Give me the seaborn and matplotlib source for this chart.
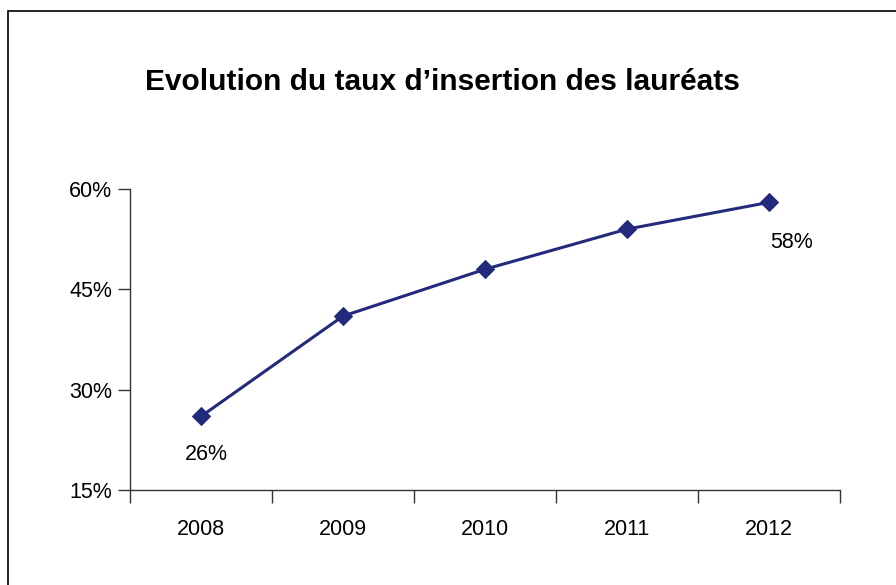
import matplotlib
matplotlib.use('Agg')
import matplotlib.pyplot as plt
import matplotlib.patches as patches
import pandas as pd
import seaborn as sns

# Data
years = ['2008', '2009', '2010', '2011', '2012']
taux = [26, 41, 48, 54, 58]
y_ticks = [15, 30, 45, 60]
labelled = {0: '26%', 4: '58%'}

df = pd.DataFrame({'annee': years, 'taux': taux})

sns.set_style('white')
plt.rcParams['font.family'] = ['Liberation Sans', 'DejaVu Sans']
plt.rcParams['text.color'] = 'black'
plt.rcParams['xtick.color'] = 'black'
plt.rcParams['ytick.color'] = 'black'

fig = plt.figure(figsize=(8.96, 5.85), dpi=100)
ax = fig.add_axes([130 / 896, 1 - 490 / 585, 710 / 896, 301 / 585])

color = '#232a7c'
sns.lineplot(data=df, x='annee', y='taux', ax=ax, color=color, linewidth=2.2,
             marker='D', markersize=9, markeredgecolor=color, sort=False)

# Axes, Excel-like
ax.set_xlim(-0.5, len(years) - 0.5)
ax.set_ylim(15, 60)
ax.set_xticks([i - 0.5 for i in range(len(years) + 1)])
ax.set_xticklabels([])
ax.set_xticks(range(len(years)), minor=True)
ax.set_xticklabels(years, minor=True, fontsize=15.5)
ax.tick_params(axis='x', which='major', direction='out', length=9, width=1, color='#333333', bottom=True)
ax.tick_params(axis='x', which='minor', length=0, pad=21)
ax.set_yticks(y_ticks)
ax.set_yticklabels([f'{v}%' for v in y_ticks], fontsize=15.5)
ax.tick_params(axis='y', direction='out', length=9, width=1, color='#333333', left=True, pad=4)
ax.set_xlabel('')
ax.set_ylabel('')

for s in ['top', 'right']:
    ax.spines[s].set_visible(False)
for s in ['left', 'bottom']:
    ax.spines[s].set_color('#333333')
    ax.spines[s].set_linewidth(1)

# Data labels
offsets = {0: (-11.5, -20), 4: (0.7, -21)}
for i, txt in labelled.items():
    ax.annotate(txt, (i, taux[i]), xytext=offsets[i], textcoords='offset points',
                ha='left', va='top', fontsize=15.5)

fig.text(442 / 896, 1 - 82 / 585, 'Evolution du taux d\u2019insertion des lauréats',
         ha='center', va='center', fontsize=21.5, fontweight='bold')

# Figure frame (left and top edges visible)
frame = patches.Rectangle((8 / 896, -0.1), 1.1, 1 - 11 / 585 + 0.1, transform=fig.transFigure,
                          fill=False, edgecolor='black', linewidth=1.2, clip_on=False)
fig.patches.append(frame)

fig.savefig('out.png', dpi=100)
